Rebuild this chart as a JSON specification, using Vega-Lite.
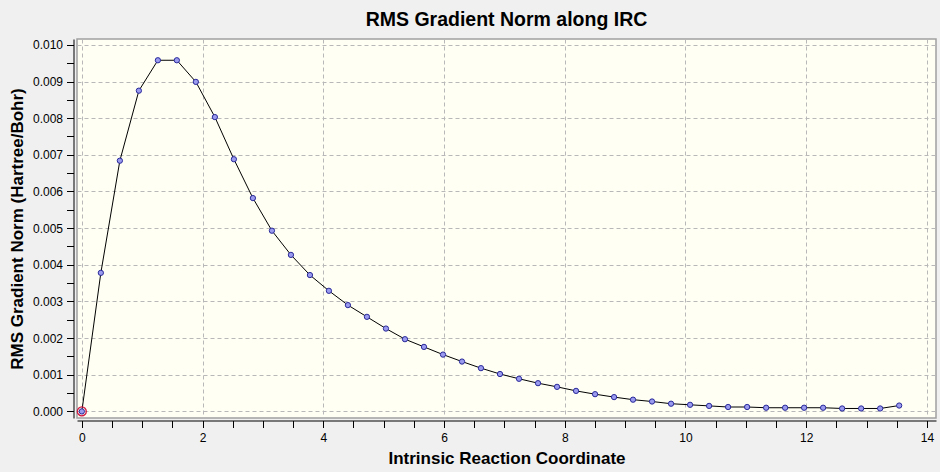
{
  "$schema": "https://vega.github.io/schema/vega-lite/v6.json",
  "width": 859,
  "height": 379,
  "autosize": {"type": "none"},
  "padding": {"left": 77, "top": 39, "right": 4, "bottom": 54},
  "background": "#f0f0f0",
  "title": {
    "text": "RMS Gradient Norm along IRC",
    "fontSize": 19.5,
    "fontWeight": "bold",
    "font": "Liberation Sans",
    "color": "#000000",
    "offset": 8
  },
  "data": {
    "values": [
      {"irc": 0.000, "grad": 0.00000},
      {"irc": 0.315, "grad": 0.00378},
      {"irc": 0.630, "grad": 0.00684},
      {"irc": 0.945, "grad": 0.00875},
      {"irc": 1.260, "grad": 0.00958},
      {"irc": 1.574, "grad": 0.00958},
      {"irc": 1.889, "grad": 0.00899},
      {"irc": 2.204, "grad": 0.00803},
      {"irc": 2.519, "grad": 0.00688},
      {"irc": 2.834, "grad": 0.00582},
      {"irc": 3.149, "grad": 0.00493},
      {"irc": 3.464, "grad": 0.00427},
      {"irc": 3.779, "grad": 0.00372},
      {"irc": 4.093, "grad": 0.00329},
      {"irc": 4.408, "grad": 0.00290},
      {"irc": 4.723, "grad": 0.00258},
      {"irc": 5.038, "grad": 0.00226},
      {"irc": 5.353, "grad": 0.00197},
      {"irc": 5.668, "grad": 0.00176},
      {"irc": 5.983, "grad": 0.00155},
      {"irc": 6.298, "grad": 0.00136},
      {"irc": 6.612, "grad": 0.00118},
      {"irc": 6.927, "grad": 0.00102},
      {"irc": 7.242, "grad": 0.00089},
      {"irc": 7.557, "grad": 0.00077},
      {"irc": 7.872, "grad": 0.00067},
      {"irc": 8.187, "grad": 0.00056},
      {"irc": 8.502, "grad": 0.00047},
      {"irc": 8.817, "grad": 0.00039},
      {"irc": 9.131, "grad": 0.00032},
      {"irc": 9.446, "grad": 0.00027},
      {"irc": 9.761, "grad": 0.00021},
      {"irc": 10.076, "grad": 0.00018},
      {"irc": 10.391, "grad": 0.00015},
      {"irc": 10.706, "grad": 0.00012},
      {"irc": 11.021, "grad": 0.00012},
      {"irc": 11.336, "grad": 0.00010},
      {"irc": 11.650, "grad": 0.00010},
      {"irc": 11.965, "grad": 0.00010},
      {"irc": 12.280, "grad": 0.00010},
      {"irc": 12.595, "grad": 0.00008},
      {"irc": 12.910, "grad": 0.00008},
      {"irc": 13.225, "grad": 0.00008},
      {"irc": 13.540, "grad": 0.00016}
    ]
  },
  "encoding": {
    "x": {
      "field": "irc",
      "type": "quantitative",
      "scale": {"domain": [-0.08, 14.15], "nice": false, "zero": false},
      "axis": {
        "title": "Intrinsic Reaction Coordinate",
        "values": [0, 0.5, 1, 1.5, 2, 2.5, 3, 3.5, 4, 4.5, 5, 5.5, 6, 6.5, 7, 7.5, 8, 8.5, 9, 9.5, 10, 10.5, 11, 11.5, 12, 12.5, 13, 13.5, 14],
        "labelExpr": "datum.value % 2 === 0 ? format(datum.value, 'd') : ''",
        "gridOpacity": {"condition": {"test": "datum.value % 2 === 0", "value": 1}, "value": 0},
        "offset": 2.5,
        "tickSize": 7,
        "labelPadding": 5,
        "titlePadding": 7
      }
    },
    "y": {
      "field": "grad",
      "type": "quantitative",
      "scale": {"domain": [-0.00018, 0.01016], "nice": false, "zero": false},
      "axis": {
        "title": "RMS Gradient Norm (Hartree/Bohr)",
        "values": [0, 0.0005, 0.001, 0.0015, 0.002, 0.0025, 0.003, 0.0035, 0.004, 0.0045, 0.005, 0.0055, 0.006, 0.0065, 0.007, 0.0075, 0.008, 0.0085, 0.009, 0.0095, 0.01],
        "labelExpr": "abs(datum.value * 1000 - round(datum.value * 1000)) < 0.01 ? format(datum.value, '.3f') : ''",
        "gridOpacity": {"condition": {"test": "abs(datum.value * 1000 - round(datum.value * 1000)) < 0.01", "value": 1}, "value": 0},
        "offset": 3.5,
        "tickSize": 7,
        "labelPadding": 4,
        "titlePadding": 6
      }
    }
  },
  "layer": [
    {
      "mark": {"type": "line", "color": "#000000", "strokeWidth": 1}
    },
    {
      "mark": {"type": "point", "filled": false, "fill": "#9a9aee", "fillOpacity": 1, "stroke": "#2a2a9a", "strokeWidth": 1, "size": 28, "opacity": 1}
    },
    {
      "transform": [{"filter": "datum.irc === 0"}],
      "mark": {"type": "point", "filled": false, "stroke": "#d01840", "strokeWidth": 1.3, "size": 80, "opacity": 1}
    }
  ],
  "config": {
    "font": "Liberation Sans",
    "view": {"fill": "#fffff4", "stroke": "#a0a0a0", "strokeWidth": 1.5},
    "axis": {
      "domainColor": "#000000",
      "tickColor": "#000000",
      "labelColor": "#000000",
      "labelFont": "Liberation Sans",
      "labelFontSize": 12,
      "labelFlush": false,
      "labelOverlap": false,
      "labelBound": false,
      "titleFont": "Liberation Sans",
      "titleFontSize": 17,
      "titleFontWeight": "bold",
      "titleColor": "#000000",
      "gridColor": "#b8b8b8",
      "gridDash": [4, 3],
      "gridWidth": 1
    }
  }
}
